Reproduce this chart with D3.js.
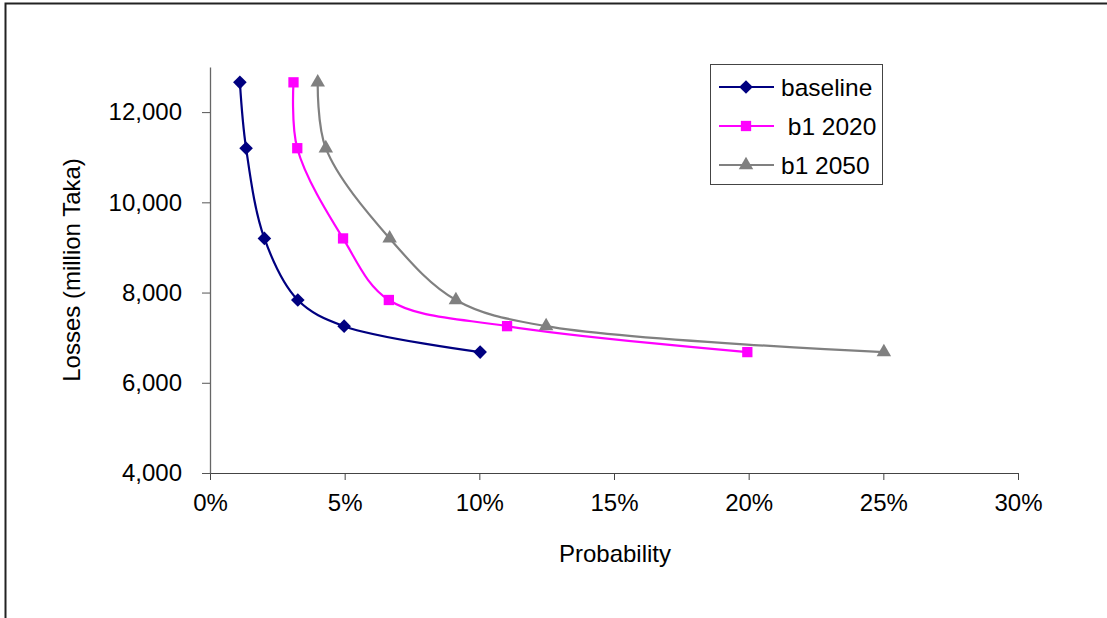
<!DOCTYPE html>
<html>
<head>
<meta charset="utf-8">
<script src="https://cdn.jsdelivr.net/npm/d3@7"></script>
<style>
  html, body { margin: 0; padding: 0; background: #fff; }
  svg { display: block; }
  text { font-family: "Liberation Sans", Arial, sans-serif; fill: #000; }
</style>
</head>
<body>
<svg id="chart" width="1107" height="618"></svg>
<script>
// Flood loss exceedance curves: loss (million Taka) against annual probability
const losses = [12660, 11200, 9200, 7835, 7255, 6680];
const baselineProb = [0.0111, 0.0134, 0.0202, 0.0326, 0.0498, 0.1003];
const b1_2020Prob  = [0.0310, 0.0324, 0.0494, 0.0664, 0.1103, 0.1995];
const b1_2050Prob  = [0.0400, 0.0430, 0.0667, 0.0913, 0.1248, 0.2502];
const seriesNames  = ["baseline", "b1 2020", "b1 2050"];
const xTicks = [0, 0.05, 0.10, 0.15, 0.20, 0.25, 0.30];
const yTicks = [4000, 6000, 8000, 10000, 12000];

const svg = d3.select("#chart");

// chart frame
svg.append("path")
  .attr("d", "M5.5,620 V3.5 H1110")
  .attr("fill", "none").attr("stroke", "#222").attr("stroke-width", 2);

const x = d3.scaleLinear().domain([0, 0.30]).range([210, 1018]);
const y = d3.scaleLinear().domain([4000, 13000]).range([473, 67]);

// axes
const xAxis = svg.append("g").attr("transform", "translate(0,473)")
  .call(d3.axisBottom(x).tickValues(xTicks).tickFormat(d3.format(".0%")).tickSize(7).tickPadding(14).tickSizeOuter(0));
const yAxis = svg.append("g").attr("transform", "translate(210,0)")
  .call(d3.axisLeft(y).tickValues(yTicks).tickFormat(d3.format(",")).tickSize(8).tickPadding(20).tickSizeOuter(0));

xAxis.select(".domain").attr("stroke", "#444");
xAxis.selectAll(".tick line").attr("stroke", "#444");
yAxis.select(".domain").attr("stroke", "#666").attr("stroke-width", 1.3);
yAxis.selectAll(".tick line").attr("stroke", "#555");
svg.selectAll(".tick text").attr("font-size", 24).attr("font-family", "Liberation Sans, Arial, sans-serif").attr("fill", "#000");

// axis titles
svg.append("text").attr("x", 615).attr("y", 562).attr("text-anchor", "middle")
  .attr("font-size", 24).text("Probability");
svg.append("text").attr("transform", "translate(80,270) rotate(-90)").attr("text-anchor", "middle")
  .attr("font-size", 24).text("Losses (million Taka)");

const series = [
  { name: seriesNames[0], probs: baselineProb, color: "#000080", marker: d3.symbolDiamond2, size: 118 },
  { name: seriesNames[1], probs: b1_2020Prob,  color: "#FF00FF", marker: d3.symbolSquare2,  size: 135 },
  { name: seriesNames[2], probs: b1_2050Prob,  color: "#808080", marker: d3.symbolTriangle2, size: 150 }
];

const line = d3.line().x(d => x(d.p)).y(d => y(d.v)).curve(d3.curveCatmullRom.alpha(0.5));

series.forEach(s => {
  const pts = s.probs.map((p, i) => ({ p, v: losses[i] }));
  svg.append("path").datum(pts)
    .attr("d", line)
    .attr("fill", "none").attr("stroke", s.color).attr("stroke-width", 2.2);
  svg.append("g").selectAll("path").data(pts).join("path")
    .attr("transform", d => `translate(${x(d.p)},${y(d.v)})`)
    .attr("d", d3.symbol().type(s.marker).size(s.size))
    .attr("fill", s.color);
});

// legend
const lg = svg.append("g");
lg.append("rect").attr("x", 710.5).attr("y", 64.5).attr("width", 172).attr("height", 120)
  .attr("fill", "#fff").attr("stroke", "#444").attr("stroke-width", 1);
const legendLabels = ["baseline", " b1 2020", "b1 2050"];
const legendY = [87, 126, 165];
series.forEach((s, i) => {
  const ly = legendY[i];
  lg.append("line").attr("x1", 719).attr("x2", 774).attr("y1", ly).attr("y2", ly)
    .attr("stroke", s.color).attr("stroke-width", 2.2);
  lg.append("path").attr("transform", `translate(746,${ly})`)
    .attr("d", d3.symbol().type(s.marker).size(s.size)).attr("fill", s.color);
  lg.append("text").attr("x", 781).attr("y", ly + 8.5).attr("font-size", 24.5)
    .attr("xml:space", "preserve").style("white-space", "pre").text(legendLabels[i]);
});
</script>
</body>
</html>
